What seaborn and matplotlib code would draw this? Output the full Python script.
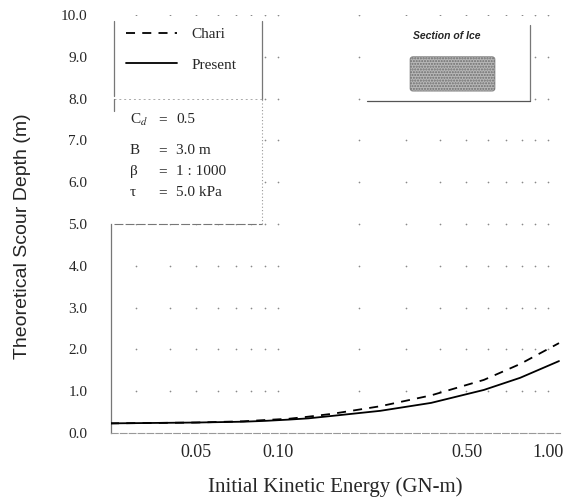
import numpy as np
import pandas as pd
import matplotlib
matplotlib.use("Agg")
import matplotlib.pyplot as plt
import seaborn as sns
from matplotlib.ticker import FixedLocator, FormatStrFormatter, NullLocator
from matplotlib.patches import Rectangle, FancyBboxPatch
from matplotlib.lines import Line2D

# ---- data ----
energy = [0.024, 0.035, 0.05, 0.075, 0.09, 0.11, 0.13, 0.16, 0.24, 0.37, 0.58, 0.79, 1.1]
chari = [0.23, 0.24, 0.25, 0.28, 0.31, 0.34, 0.39, 0.46, 0.64, 0.90, 1.27, 1.65, 2.15]
present = [0.23, 0.24, 0.25, 0.27, 0.29, 0.32, 0.35, 0.41, 0.53, 0.72, 1.03, 1.32, 1.72]
models = ["Chari", "Present"]
x_ticks = [0.05, 0.10, 0.50, 1.00]
y_ticks = [0.0, 1.0, 2.0, 3.0, 4.0, 5.0, 6.0, 7.0, 8.0, 9.0, 10.0]
param_names = ["C$_{d}$", "B", "β", "τ"]
param_values = ["0.5", "3.0 m", "1 : 1000", "5.0 kPa"]

n = len(energy)
df = pd.DataFrame({
    "energy": energy * 2,
    "depth": chari + present,
    "model": [models[0]] * n + [models[1]] * n,
})

sns.set_style("white")
plt.rcParams["font.family"] = ["Liberation Serif", "DejaVu Serif"]
plt.rcParams["mathtext.fontset"] = "stix"

XMIN, XMAX = 0.0242, 1.11

fig = plt.figure(figsize=(5.87, 5.03), dpi=100)
ax = fig.add_axes([0.1891, 0.1392, 0.765, 0.831])

sns.lineplot(data=df, x="energy", y="depth", style="model", style_order=models,
             dashes={"Chari": (5, 4), "Present": ""}, color="black",
             linewidth=1.3, legend=False, ax=ax, zorder=5)
ax.set_xscale("log")
ax.set_xlim(XMIN, XMAX)
ax.set_ylim(0, 10)

# dotted grid: dots at the intersections of log minor positions and y ticks
minor = [s * 10.0 ** e for e in (-2, -1, 0) for s in range(1, 10)]
minor = [m for m in minor if XMIN < m <= XMAX]
gx, gy = np.meshgrid(minor, y_ticks[1:])
ax.scatter(gx.ravel(), gy.ravel(), s=1.5, color="#8a8a8a", linewidths=0, zorder=1)

# ticks
ax.xaxis.set_major_locator(FixedLocator(x_ticks))
ax.xaxis.set_minor_locator(NullLocator())
ax.xaxis.set_major_formatter(FormatStrFormatter("%.2f"))
ax.yaxis.set_major_locator(FixedLocator(y_ticks))
ax.yaxis.set_major_formatter(FormatStrFormatter("%.1f"))
ax.tick_params(axis="x", length=0, labelsize=13, pad=8)
ax.tick_params(axis="y", length=0, labelsize=11, pad=17)

# spines
for s in ["top", "right"]:
    ax.spines[s].set_visible(False)
ax.spines["left"].set_color("#777777")
ax.spines["left"].set_linewidth(0.9)
ax.spines["left"].set_bounds(0, 5)
ax.spines["bottom"].set_color("#999999")
ax.spines["bottom"].set_linewidth(0.8)
ax.spines["bottom"].set_linestyle((0, (6, 2)))

# axis labels
ax.set_xlabel("Initial Kinetic Energy (GN-m)", fontsize=15)
ax.xaxis.set_label_coords(0.5, -0.129)
ax.xaxis.label.set_va("center")
ax.set_ylabel("Theoretical Scour Depth (m)", fontsize=14,
              family=["Liberation Sans", "DejaVu Sans"])
ax.yaxis.set_label_coords(-0.198, 0.47)
ax.yaxis.label.set_va("center")

T = ax.transAxes
# white backgrounds for the boxes
for (x0, y0, w, h) in [(0.004, 0.80, 0.332, 0.197), (0.004, 0.50, 0.332, 0.30), (0.577, 0.79, 0.356, 0.207)]:
    ax.add_patch(Rectangle((x0, y0), w, h, transform=T, facecolor="white",
                           edgecolor="none", zorder=2))

def seg(xs, ys, **kw):
    ax.add_line(Line2D(xs, ys, transform=T, zorder=3, **kw))

# legend box edges
seg([0.006, 0.006], [0.805, 0.985], color="#777777", lw=0.9)
seg([0.336, 0.336], [0.80, 0.985], color="#777777", lw=0.9)
seg([0.006, 0.336], [0.80, 0.80], color="#aaaaaa", lw=0.7, ls=(0, (2, 3)))
# parameter box edges
seg([0.006, 0.006], [0.77, 0.80], color="#777777", lw=0.9)
seg([0.336, 0.336], [0.50, 0.80], color="#999999", lw=0.8, ls=(0, (1, 2)))
seg([0.006, 0.336], [0.50, 0.50], color="#777777", lw=0.8, ls=(0, (8, 2)))
# section of ice box edges
seg([0.933, 0.933], [0.795, 0.975], color="#777777", lw=0.9)
seg([0.57, 0.933], [0.795, 0.795], color="#555555", lw=0.9)

# legend
handles = [Line2D([], [], color="black", lw=1.3, dashes=(5, 4)),
           Line2D([], [], color="black", lw=1.3)]
ax.legend(handles, models, loc="upper left", bbox_to_anchor=(0.02, 0.985),
          frameon=False, fontsize=11, handlelength=3.3, handletextpad=1.0,
          labelspacing=1.1, borderaxespad=0)

# parameter text
rows = [0.75, 0.675, 0.625, 0.575]
for name, val, yy in zip(param_names, param_values, rows):
    ax.text(0.042, yy, name, transform=T, fontsize=11, va="center", ha="left", zorder=4)
    ax.text(0.105, yy, "=", transform=T, fontsize=11, va="center", ha="left", zorder=4)
    ax.text(0.145, yy, val, transform=T, fontsize=11, va="center", ha="left", zorder=4)

# section of ice
ax.text(0.748, 0.95, "Section of Ice", transform=T, fontsize=7.5, ha="center", va="center",
        family=["Liberation Sans", "DejaVu Sans"], weight="bold", style="italic", zorder=4)
ax.add_patch(FancyBboxPatch((0.666, 0.818), 0.189, 0.082, transform=T,
                            boxstyle="round,pad=0,rounding_size=0.006",
                            facecolor="#b8b8b8", edgecolor="#6e6e6e", hatch="......",
                            lw=0.5, zorder=4))

fig.savefig("out.png", dpi=100, facecolor="white")
